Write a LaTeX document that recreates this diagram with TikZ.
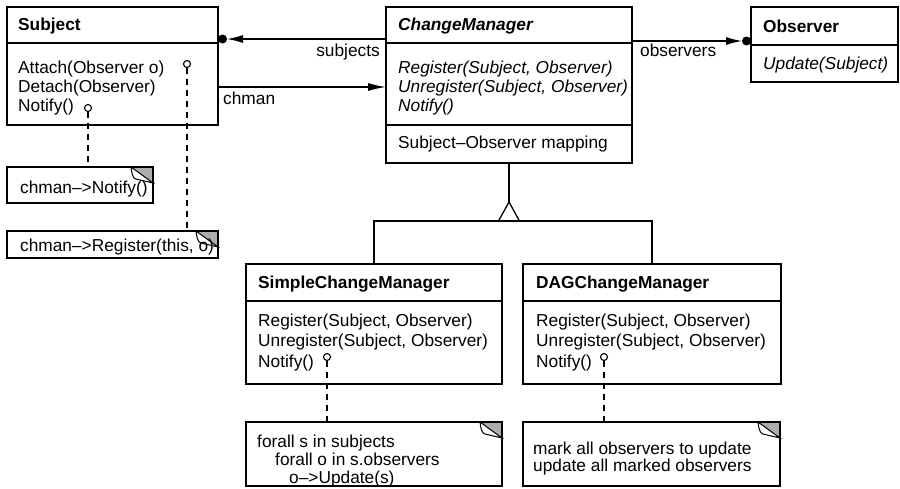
\documentclass[tikz,border=0pt]{standalone}
\usepackage{fontspec}
\setmainfont{Liberation Sans}
\usetikzlibrary{arrows.meta,calc}
\newcommand{\dgfont}{\fontsize{17.3}{19}\selectfont}
\begin{document}
\begin{tikzpicture}[x=1pt,y=-1pt,
  box/.style={draw, line width=1.3pt, outer sep=0pt, inner sep=0pt, anchor=north west},
  sep/.style={line width=1.1pt},
  txt/.style={anchor=base west, inner sep=0pt, font=\dgfont},
  hd/.style={txt, font=\dgfont\bfseries},
  hdi/.style={txt, font=\dgfont\bfseries\itshape},
  it/.style={txt, font=\dgfont\itshape},
  lbl/.style={inner sep=0pt, font=\dgfont},
  assoc/.style={line width=1.3pt},
  pin/.style={circle, draw, line width=1.1pt, minimum size=7pt, inner sep=0pt, outer sep=0pt},
  dashline/.style={line width=1.1pt, dash pattern=on 6pt off 5pt},
  dogear/.pic={
    \fill[gray!65] (-22,0) -- (0,0) -- (0,16) -- cycle;
    \draw[line width=1pt, fill=white] (-22,0) .. controls (-21,8) and (-20,11) .. (-17,12) -- (0,16) -- cycle;
    \draw[line width=1.3pt] (-22,0) -- (0,0) -- (0,16);
  }]
\useasboundingbox (0,0) rectangle (900,488);

% ---------- Subject ----------
\node[box, minimum width=211pt, minimum height=118pt] (subj) at (7,7) {};
\draw[sep] (subj.west |- 0,43) -- (subj.east |- 0,43);
\node[hd] (subjh) at (18,30) {Subject};
\node[txt] (subj1) at (18,73) {Attach(Observer o)};
\node[txt] (subj2) at (18,92) {Detach(Observer)};
\node[txt] (subj3) at (18,111) {Notify()};
\node[pin] (pa) at (187,64) {};
\node[pin] (pn) at (88,108) {};

% ---------- ChangeManager ----------
\node[box, minimum width=246pt, minimum height=156pt] (cm) at (386,7) {};
\draw[sep] (cm.west |- 0,43) -- (cm.east |- 0,43);
\draw[sep] (cm.west |- 0,125) -- (cm.east |- 0,125);
\node[hdi] (cmh) at (398,30) {ChangeManager};
\node[it] (cm1) at (398,73) {Register(Subject, Observer)};
\node[it] (cm2) at (398,92) {Unregister(Subject, Observer)};
\node[it] (cm3) at (398,111) {Notify()};
\node[txt] (cm4) at (398,148) {Subject–Observer mapping};

% ---------- Observer ----------
\node[box, minimum width=147pt, minimum height=75pt] (obs) at (751,7) {};
\draw[sep] (obs.west |- 0,45) -- (obs.east |- 0,45);
\node[hd] (obsh) at (763,32) {Observer};
\node[it] (obs1) at (763,69) {Update(Subject)};

% ---------- SimpleChangeManager ----------
\node[box, minimum width=256pt, minimum height=120pt] (scm) at (246,264) {};
\draw[sep] (scm.west |- 0,301) -- (scm.east |- 0,301);
\node[hd] (scmh) at (258,288) {SimpleChangeManager};
\node[txt] (scm1) at (258,326) {Register(Subject, Observer)};
\node[txt] (scm2) at (258,346.5) {Unregister(Subject, Observer)};
\node[txt] (scm3) at (258,367) {Notify()};
\node[pin] (ps) at (327,357) {};

% ---------- DAGChangeManager ----------
\node[box, minimum width=258pt, minimum height=120pt] (dag) at (523,264) {};
\draw[sep] (dag.west |- 0,301) -- (dag.east |- 0,301);
\node[hd] (dagh) at (536,288) {DAGChangeManager};
\node[txt] (dag1) at (536,326) {Register(Subject, Observer)};
\node[txt] (dag2) at (536,346.5) {Unregister(Subject, Observer)};
\node[txt] (dag3) at (536,367) {Notify()};
\node[pin] (pd) at (604,357) {};

% ---------- Notes ----------
\node[box, minimum width=146pt, minimum height=36pt] (n1) at (7,167) {};
\pic at (n1.north east) {dogear};
\node[txt] (n1t) at (20,193) {chman–>Notify()};

\node[box, minimum width=211pt, minimum height=27pt] (n2) at (7,231) {};
\pic at (n2.north east) {dogear};
\node[txt] (n2t) at (20,251) {chman–>Register(this, o)};

\node[box, minimum width=256pt, minimum height=64pt] (n3) at (246,422) {};
\pic at (n3.north east) {dogear};
\node[txt] (n3a) at (257,447) {forall s in subjects};
\node[txt] (n3b) at (275,465) {forall o in s.observers};
\node[txt] (n3c) at (289,483) {o–>Update(s)};

\node[box, minimum width=257pt, minimum height=64pt] (n4) at (523,422) {};
\pic at (n4.north east) {dogear};
\node[txt] (n4a) at (533,454) {mark all observers to update};
\node[txt] (n4b) at (533,471) {update all marked observers};

% ---------- Note links ----------
\draw[dashline] (pn.south) -- (pn.south |- n1.north);
\draw[dashline] (pa.south) -- (pa.south |- n2.north);
\draw[dashline] (ps.south) -- (ps.south |- n3.north);
\draw[dashline] (pd.south) -- (pd.south |- n4.north);

% ---------- Associations ----------
\draw[assoc, -{Latex[length=16pt,width=8pt]}, shorten >=9pt] (cm.west |- 0,39) -- (subj.east |- 0,39);
\fill ($(subj.east |- 0,39)+(4.5,0)$) circle (4.5);
\node[lbl, anchor=base east] (lsub) at (380,56) {subjects};

\draw[assoc, -{Latex[length=16pt,width=8pt]}, shorten >=9pt] (cm.east |- 0,41) -- (obs.west |- 0,41);
\fill ($(obs.west |- 0,41)+(-4.5,0)$) circle (4.5);
\node[lbl, anchor=base west] (lobs) at (640,56) {observers};

\draw[assoc, -{Latex[length=18pt,width=8pt]}] (subj.east |- 0,87) -- (cm.west |- 0,87);
\node[lbl, anchor=base west] (lch) at (223,104) {chman};

% ---------- Inheritance ----------
\coordinate (apex) at ($(cm.south)+(0,39)$);
\coordinate (tribase) at ($(apex)+(0,19)$);
\draw[assoc] (cm.south) -- (apex);
\draw[assoc, fill=white] (apex) -- ++(-10.5,19) -- ++(21,0) -- cycle;
\draw[assoc] (scm.north) |- (tribase) -| (dag.north);
\end{tikzpicture}
\end{document}
